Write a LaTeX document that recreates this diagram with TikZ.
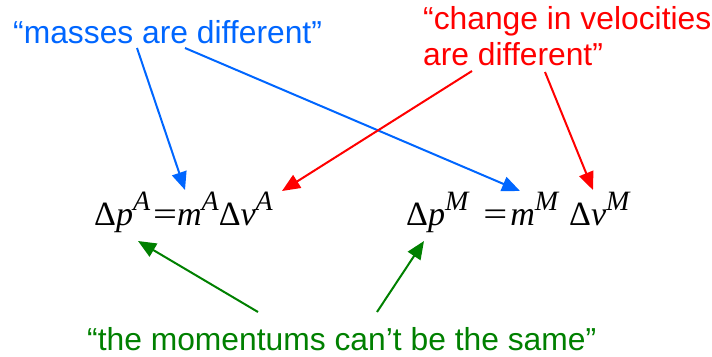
\documentclass[tikz,border=0pt]{standalone}
\usepackage{fontspec}
\setmainfont{Liberation Sans}
\newfontfamily\eqfont{Liberation Serif}
\usetikzlibrary{arrows.meta}
\definecolor{cblue}{RGB}{0,102,255}
\definecolor{cred}{RGB}{255,0,0}
\definecolor{cgreen}{RGB}{0,128,0}
\newcommand{\eqD}{{\eqfont\fontsize{34}{34}\selectfont\symbol{"0394}}}
\newcommand{\eqit}[1]{{\eqfont\itshape\fontsize{34}{34}\selectfont #1}}
\newcommand{\eqsp}[1]{\raisebox{15pt}{\eqfont\itshape\fontsize{28}{28}\selectfont #1}}
\newcommand{\eqeq}{\scalebox{1.25}[1]{\eqfont\fontsize{34}{34}\selectfont =}}
\begin{document}
\begin{tikzpicture}[x=1pt,y=-1pt,
  lbl/.style={anchor=base west,inner sep=0pt,font=\fontsize{31.8}{36}\selectfont},
  eqn/.style={anchor=base west,inner sep=0pt},
  arr/.style={line width=2pt,-{Triangle[length=18pt,width=15pt]}}]
\useasboundingbox (0,0) rectangle (712,356);
\node[lbl,text=cblue] (blueT) at (13,43) {“masses are different”};
\node[lbl,text=cred] (redT1) at (423,29) {“change in velocities};
\node[lbl,text=cred] (redT2) at (423,65) {are different”};
\node[lbl,text=cgreen] (greenT) at (87,350) {“the momentums can’t be the same”};
\node[eqn] (eqL) at (94,225) {\eqD\eqit{p}\eqsp{A}\hspace{3pt}\eqeq\eqit{m}\eqsp{A}\eqD\eqit{v}\eqsp{A}};
\node[eqn] (eqR) at (406,225) {\eqD\eqit{p}\eqsp{M}\hspace{15pt}\eqeq\hspace{3pt}\eqit{m}\eqsp{M}\hspace{11pt}\eqD\eqit{v}\eqsp{M}};
\coordinate (b1s) at (137,48);  \coordinate (b1e) at (185,190);
\coordinate (b2s) at (185,48);  \coordinate (b2e) at (520,191);
\coordinate (r1s) at (472,71);  \coordinate (r1e) at (282,191);
\coordinate (r2s) at (545,72);  \coordinate (r2e) at (593,190);
\coordinate (g1s) at (258,312); \coordinate (g1e) at (138,241);
\coordinate (g2s) at (377,312); \coordinate (g2e) at (424,241);
\draw[arr,cblue] (b1s) -- (b1e);
\draw[arr,cblue] (b2s) -- (b2e);
\draw[arr,cred] (r1s) -- (r1e);
\draw[arr,cred] (r2s) -- (r2e);
\draw[arr,cgreen] (g1s) -- (g1e);
\draw[arr,cgreen] (g2s) -- (g2e);
\end{tikzpicture}
\end{document}
